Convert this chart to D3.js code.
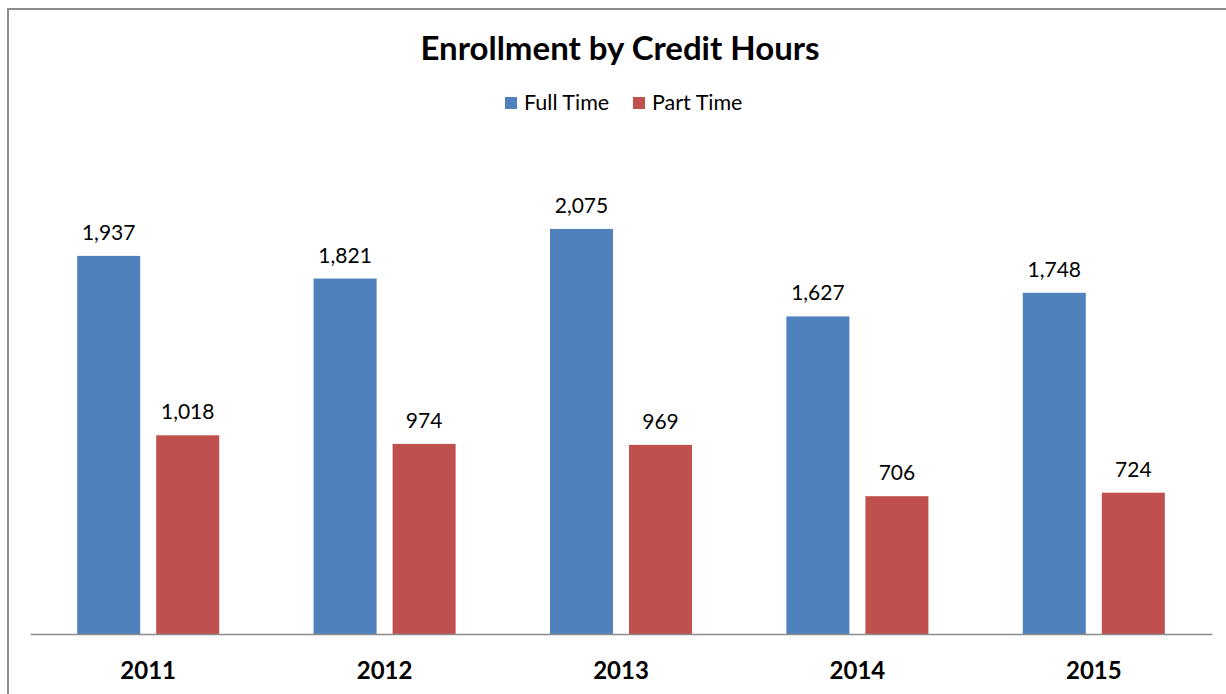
<!DOCTYPE html>
<html><head><meta charset="utf-8">
<script src="https://cdn.jsdelivr.net/npm/d3@7"></script>
<style>body{margin:0;background:#fff}svg{display:block}text{font-family:Lato,"Open Sans",sans-serif}</style>
</head><body>
<svg id="c" width="1226" height="694"></svg>
<script>
const years = ["2011","2012","2013","2014","2015"];
const seriesNames = ["Full Time","Part Time"];
const fullTime = [1937,1821,2075,1627,1748];
const partTime = [1018,974,969,706,724];
const colors = ["#4F81BD","#C0504D"];
const title = "Enrollment by Credit Hours";

const svg = d3.select("#c");
svg.append("rect").attr("x",8).attr("y",9).attr("width",1240).attr("height",720)
  .attr("fill","#fff").attr("stroke","#8c8c8c").attr("stroke-width",2);

const x0 = d3.scaleBand().domain(years).range([30,1212]);
const x1 = d3.scaleBand().domain(seriesNames).range([0,x0.bandwidth()]).paddingInner(0.2025).paddingOuter(0.597);
const y = d3.scaleLinear().domain([0,2500]).range([634,146]);

const data = years.map((yr,i)=>({year:yr, vals:[fullTime[i],partTime[i]]}));
const g = svg.append("g");
const groups = g.selectAll("g.grp").data(data).join("g").attr("transform",d=>`translate(${x0(d.year)},0)`);
groups.selectAll("rect").data(d=>d.vals.map((v,j)=>({s:seriesNames[j],v,j}))).join("rect")
  .attr("x",d=>x1(d.s)).attr("width",x1.bandwidth())
  .attr("y",d=>y(d.v)).attr("height",d=>y(0)-y(d.v)).attr("fill",d=>colors[d.j]);
groups.selectAll("text").data(d=>d.vals.map((v,j)=>({s:seriesNames[j],v,j}))).join("text")
  .attr("x",d=>x1(d.s)+x1.bandwidth()/2).attr("y",d=>y(d.v)-16)
  .attr("text-anchor","middle").attr("font-size",21).attr("fill","#000")
  .text(d=>d3.format(",")(d.v));

const xAxis = svg.append("g").attr("transform","translate(0,634)").call(d3.axisBottom(x0).tickSize(0).tickPadding(0));
xAxis.select(".domain").attr("stroke","#8c8c8c").attr("stroke-width",1.5);
xAxis.selectAll("text").attr("font-size",24).attr("font-weight","bold").attr("fill","#000")
  .attr("font-family","Lato,sans-serif").attr("dy",null).attr("y",45);

svg.append("text").attr("x",620).attr("y",60).attr("text-anchor","middle")
  .attr("font-size",33).attr("font-weight","bold").text(title);

const legendX = [505,633];
const leg = svg.append("g").selectAll("g").data(seriesNames).join("g")
  .attr("transform",(d,i)=>`translate(${legendX[i]},97)`);
leg.append("rect").attr("width",12).attr("height",12).attr("fill",(d,i)=>colors[i]);
leg.append("text").attr("x",19).attr("y",13).attr("font-size",21.5).text(d=>d);
</script>
</body></html>
